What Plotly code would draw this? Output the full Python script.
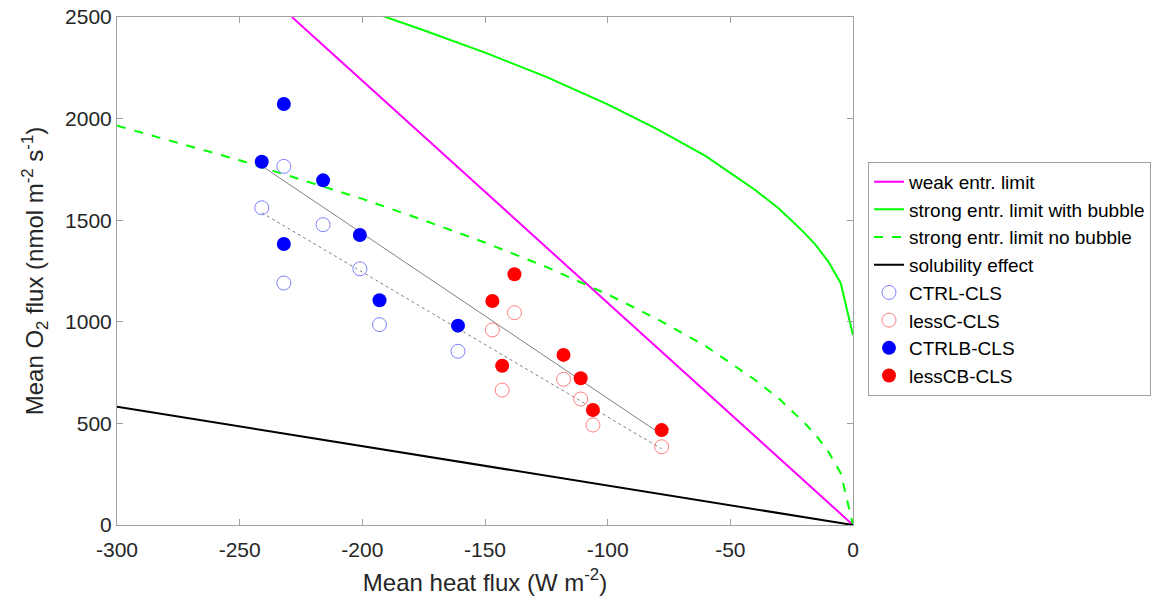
import numpy as np
import plotly.graph_objects as go

# ---- data ----
heat_ctrl = [-241, -232, -232, -216, -201, -193, -161]
heat_lessc = [-147, -138, -143, -118, -111, -106, -78]

o2_ctrl_cls = [1561, 1765, 1191, 1478, 1261, 986, 855]        # CTRL-CLS (open)
o2_ctrlb_cls = [1788, 2072, 1383, 1696, 1427, 1106, 981]      # CTRLB-CLS (filled)
o2_lessc_cls = [960, 1045, 664, 717, 620, 492, 385]           # lessC-CLS (open)
o2_lesscb_cls = [1102, 1234, 784, 837, 722, 566, 467]         # lessCB-CLS (filled)

weak_x = [-228.7, 0]
weak_y = [2500, 0]

sol_x = [-300, 0]
sol_y = [582, 0]

strong_x = [-300, -275, -250, -225, -200, -175, -150, -125, -100, -80, -60,
            -40, -30, -20, -15, -10, -5, 0]
strong_nobub_y = [1965, 1880, 1795, 1700, 1605, 1500, 1390, 1270, 1135, 1015,
                  880, 715, 620, 505, 440, 360, 255, 0]
strong_bub_y = [2900, 2815, 2730, 2635, 2540, 2435, 2325, 2205, 2070, 1950,
                1815, 1650, 1555, 1440, 1375, 1295, 1190, 935]

x_ticks = [-300, -250, -200, -150, -100, -50, 0]
x_ticklabels = ["-300", "-250", "-200", "-150", "-100", "-50", "0"]
y_ticks = [0, 500, 1000, 1500, 2000, 2500]
y_ticklabels = ["0", "500", "1000", "1500", "2000", "2500"]

# ---- regression lines through the simulations ----
all_x = np.array(heat_ctrl + heat_lessc, dtype=float)
filled_y = np.array(o2_ctrlb_cls + o2_lesscb_cls, dtype=float)
open_y = np.array(o2_ctrl_cls + o2_lessc_cls, dtype=float)
pf = np.polyfit(all_x, filled_y, 1)
po = np.polyfit(all_x, open_y, 1)
fx = np.array([all_x.min(), all_x.max()])

fig = go.Figure()

fig.add_trace(go.Scatter(x=fx, y=np.polyval(pf, fx), mode="lines",
                         line=dict(color="#808080", width=1), showlegend=False,
                         hoverinfo="skip"))
fig.add_trace(go.Scatter(x=fx, y=np.polyval(po, fx), mode="lines",
                         line=dict(color="#808080", width=1, dash="dot"),
                         showlegend=False, hoverinfo="skip"))

fig.add_trace(go.Scatter(x=weak_x, y=weak_y, mode="lines", name="weak entr. limit",
                         line=dict(color="#ff00ff", width=2)))
fig.add_trace(go.Scatter(x=strong_x, y=strong_bub_y, mode="lines",
                         name="strong entr. limit with bubble",
                         line=dict(color="#00ff00", width=2)))
fig.add_trace(go.Scatter(x=strong_x, y=strong_nobub_y, mode="lines",
                         name="strong entr. limit no bubble",
                         line=dict(color="#00ff00", width=2, dash="dash")))
fig.add_trace(go.Scatter(x=sol_x, y=sol_y, mode="lines", name="solubility effect",
                         line=dict(color="black", width=2)))

fig.add_trace(go.Scatter(x=heat_ctrl, y=o2_ctrl_cls, mode="markers", name="CTRL-CLS",
                         marker=dict(symbol="circle-open", size=14,
                                     color="#7f7fff", line=dict(width=1, color="#7f7fff"))))
fig.add_trace(go.Scatter(x=heat_lessc, y=o2_lessc_cls, mode="markers", name="lessC-CLS",
                         marker=dict(symbol="circle-open", size=14,
                                     color="#ff7f7f", line=dict(width=1, color="#ff7f7f"))))
fig.add_trace(go.Scatter(x=heat_ctrl, y=o2_ctrlb_cls, mode="markers", name="CTRLB-CLS",
                         marker=dict(symbol="circle", size=14, color="#0000ff")))
fig.add_trace(go.Scatter(x=heat_lessc, y=o2_lesscb_cls, mode="markers", name="lessCB-CLS",
                         marker=dict(symbol="circle", size=14, color="#ff0000")))

axis_common = dict(
    showline=True, linecolor="#a0a0a0", linewidth=1, mirror="ticks",
    ticks="inside", ticklen=6, tickcolor="#a0a0a0", showgrid=False,
    zeroline=False, tickfont=dict(size=21, color="#262626"), automargin=False,
)

fig.update_layout(
    width=1168, height=603,
    margin=dict(l=117, r=315, t=17, b=78, autoexpand=False),
    plot_bgcolor="white", paper_bgcolor="white",
    font=dict(family="Liberation Sans, Arial, sans-serif", color="#262626"),
    xaxis=dict(range=[-300, 0], tickvals=x_ticks, ticktext=x_ticklabels,
               ticklabelstandoff=6, **axis_common,
               title=dict(text="Mean heat flux (W m<sup>-2</sup>)",
                          font=dict(size=24, color="#262626"), standoff=13)),
    yaxis=dict(range=[0, 2500], tickvals=y_ticks, ticktext=y_ticklabels,
               **axis_common,
               title=dict(text="Mean O<sub>2</sub> flux (nmol m<sup>-2</sup> s<sup>-1</sup>)",
                          font=dict(size=24, color="#262626"), standoff=14)),
    legend=dict(x=(868 - 117) / (1168 - 117 - 315), y=0.715,
                xanchor="left", yanchor="top",
                bordercolor="#a0a0a0", borderwidth=1, bgcolor="white",
                font=dict(size=19, color="black"), itemwidth=30,
                tracegroupgap=0),
    showlegend=True,
)

fig.write_html("out.html", config={"displayModeBar": False},
               post_script="document.body.style.margin='0px';")
